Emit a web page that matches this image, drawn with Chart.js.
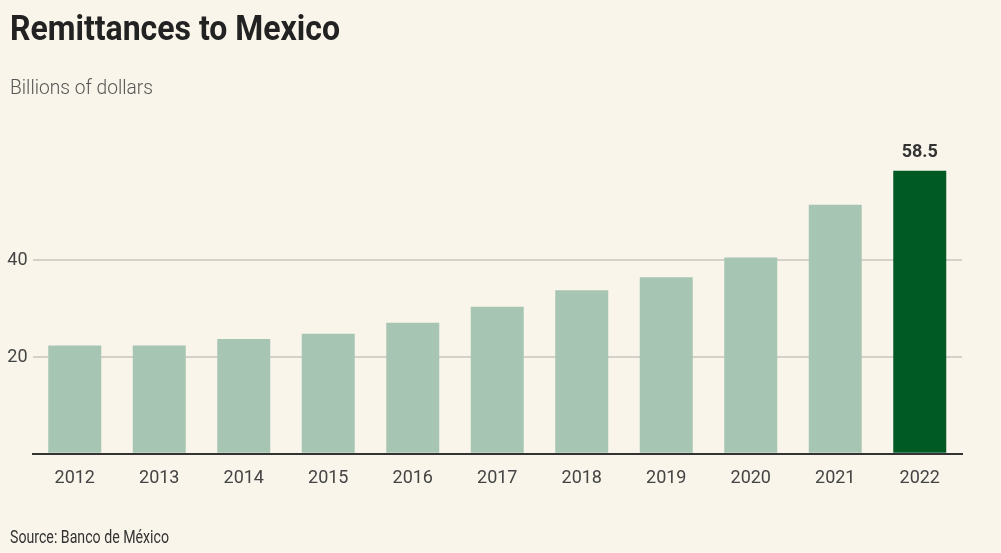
<!DOCTYPE html>
<html><head><meta charset="utf-8">
<script src="https://cdn.jsdelivr.net/npm/chart.js@4"></script>
<style>
html,body{margin:0;padding:0;background:#f9f5ea;width:1001px;height:553px;overflow:hidden}
#wrap{position:relative;width:1001px;height:553px}
#c{position:absolute;left:0;top:0}
.t{position:absolute;white-space:nowrap;transform-origin:0 0;line-height:1;margin:0}
</style></head><body>
<div id="wrap">
<canvas id="c" width="1001" height="553"></canvas>
<div class="t" id="title">Remittances to Mexico</div>
<div class="t" id="sub">Billions of dollars</div>
<div class="t" id="src">Source: Banco de México</div>
</div>
<script>
// ---- data ----
const years = ['2012','2013','2014','2015','2016','2017','2018','2019','2020','2021','2022'];
const remittances = [22.4, 22.4, 23.7, 24.8, 27.1, 30.4, 33.8, 36.5, 40.6, 51.5, 58.5];
const yTickValues = [20, 40];
const highlightYear = '2022';

// ---- font detection ----
function hasFont(name){
  const c=document.createElement('canvas').getContext('2d');
  const s='Remittances 2012 abcdefghij';
  c.font='40px monospace'; const a=c.measureText(s).width;
  c.font='40px "'+name+'", monospace'; const b=c.measureText(s).width;
  return Math.abs(a-b)>1;
}
const narrow = hasFont('Liberation Sans Narrow');
const FAM = narrow ? '"Liberation Sans Narrow", Roboto, sans-serif' : 'Roboto, sans-serif';

// ---- HTML text placed by baseline, fitted to width ----
function place(id, opts){
  const el=document.getElementById(id);
  el.style.fontFamily=opts.family; el.style.fontSize=opts.size+'px';
  el.style.fontWeight=opts.weight; el.style.color=opts.color;
  const w=el.getBoundingClientRect().width;
  const sx=opts.width/w;
  const c=document.createElement('canvas').getContext('2d');
  c.font=opts.weight+' '+opts.size+'px '+opts.family;
  const m=c.measureText('Hg');
  const asc=m.fontBoundingBoxAscent, desc=m.fontBoundingBoxDescent;
  const baseOff=(opts.size-(asc+desc))/2+asc;
  el.style.left=opts.x+'px';
  el.style.top=(opts.baseline-baseOff)+'px';
  el.style.transform='scaleX('+sx+')';
}
place('title',{family:FAM,size:35,weight:700,color:'#222',x:10,baseline:40,width:330});
place('sub',{family:'Roboto, sans-serif',size:20,weight:300,color:'#555',x:10,baseline:94,width:143});
place('src',{family:FAM,size:18,weight:400,color:'#333',x:10,baseline:543,width:159});

const tickFont = narrow ? {family:FAM,size:21} : {family:FAM,size:18};
const labelFont = narrow ? {family:FAM,size:21,weight:'bold'} : {family:FAM,size:18,weight:'bold'};

const valueLabel = {
  id:'valueLabel',
  afterDatasetsDraw(chart){
    const ctx=chart.ctx;
    const i=years.indexOf(highlightYear);
    const el=chart.getDatasetMeta(0).data[i];
    ctx.save();
    ctx.font=labelFont.weight+' '+labelFont.size+'px '+labelFont.family;
    ctx.fillStyle='#333';
    ctx.textAlign='center';
    ctx.textBaseline='alphabetic';
    ctx.fillText(String(remittances[i]), el.x, el.y-14);
    ctx.restore();
  }
};

new Chart(document.getElementById('c'),{
  type:'bar',
  data:{labels:years,datasets:[{
    data:remittances,
    backgroundColor:years.map(y=>y===highlightYear?'#005a24':'#a6c6b3'),
    borderWidth:0,
    categoryPercentage:1,
    barPercentage:0.627
  }]},
  options:{
    responsive:false,animation:false,
    layout:{padding:{top:163.6,right:39,left:0,bottom:0}},
    plugins:{legend:{display:false},tooltip:{enabled:false}},
    scales:{
      x:{
        grid:{display:false,drawTicks:false},
        border:{display:true,color:'#333',width:2},
        ticks:{color:'#444',font:tickFont,padding:14,maxRotation:0},
        afterFit(s){s.height=553-453.7;}
      },
      y:{
        min:0,max:60,
        grid:{drawTicks:false,lineWidth:2,color:c=>yTickValues.includes(c.tick.value)?'#d3d1c9':'rgba(0,0,0,0)'},
        border:{display:false},
        ticks:{stepSize:20,color:'#444',font:tickFont,padding:5,
          callback:v=>yTickValues.includes(v)?String(v):''},
        afterFit(s){s.width=32.5;}
      }
    }
  },
  plugins:[valueLabel]
});
</script>
</body></html>
